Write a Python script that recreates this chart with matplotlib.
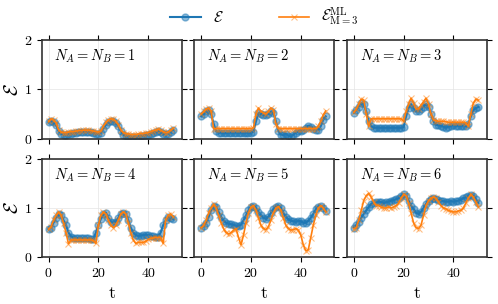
import numpy as np
import matplotlib
matplotlib.use("Agg")
from matplotlib import pyplot as plt

plt.rcParams['font.family'] = 'serif'
plt.rcParams['font.serif'] = ['cmr10', 'DejaVu Serif']
plt.rcParams['mathtext.fontset'] = 'cm'
plt.rcParams['axes.formatter.use_mathtext'] = True

# time steps
t = np.arange(51)

# exact value E, one list per N_A = N_B
e_exact = {
    1: [0.33, 0.35, 0.33, 0.28, 0.15, 0.10, 0.08, 0.08, 0.09, 0.10, 0.11, 0.12, 0.13, 0.13, 0.14, 0.14, 0.14,
        0.13, 0.12, 0.10, 0.10, 0.12, 0.20, 0.28, 0.33, 0.35, 0.35, 0.32, 0.25, 0.15, 0.08, 0.05, 0.04, 0.03,
        0.03, 0.03, 0.04, 0.05, 0.06, 0.07, 0.08, 0.10, 0.12, 0.13, 0.15, 0.13, 0.10, 0.09, 0.10, 0.14, 0.18],
    2: [0.45, 0.50, 0.55, 0.58, 0.50, 0.30, 0.15, 0.12, 0.12, 0.11, 0.11, 0.12, 0.12, 0.12, 0.12, 0.12, 0.12,
        0.12, 0.12, 0.12, 0.12, 0.14, 0.35, 0.52, 0.50, 0.48, 0.47, 0.50, 0.55, 0.52, 0.35, 0.15, 0.08, 0.07,
        0.10, 0.06, 0.04, 0.08, 0.12, 0.15, 0.16, 0.18, 0.22, 0.26, 0.24, 0.20, 0.18, 0.18, 0.25, 0.38, 0.45],
    3: [0.52, 0.58, 0.65, 0.72, 0.70, 0.55, 0.35, 0.25, 0.22, 0.22, 0.22, 0.22, 0.22, 0.22, 0.22, 0.22, 0.22,
        0.22, 0.22, 0.22, 0.23, 0.45, 0.62, 0.70, 0.62, 0.55, 0.55, 0.60, 0.65, 0.70, 0.65, 0.50, 0.35, 0.28,
        0.27, 0.26, 0.24, 0.22, 0.24, 0.26, 0.27, 0.26, 0.26, 0.26, 0.26, 0.25, 0.30, 0.45, 0.58, 0.62, 0.64],
    4: [0.57, 0.60, 0.70, 0.80, 0.88, 0.85, 0.75, 0.65, 0.50, 0.42, 0.40, 0.39, 0.39, 0.38, 0.38, 0.38, 0.38,
        0.37, 0.37, 0.50, 0.65, 0.78, 0.88, 0.90, 0.80, 0.72, 0.70, 0.72, 0.80, 0.88, 0.90, 0.88, 0.75, 0.60,
        0.50, 0.45, 0.43, 0.44, 0.45, 0.46, 0.45, 0.44, 0.43, 0.42, 0.42, 0.50, 0.65, 0.75, 0.82, 0.80, 0.77],
    5: [0.60, 0.63, 0.70, 0.82, 0.95, 1.05, 1.02, 0.92, 0.82, 0.74, 0.70, 0.68, 0.67, 0.66, 0.64, 0.63, 0.66,
        0.75, 0.85, 0.95, 1.03, 1.05, 1.00, 0.92, 0.85, 0.80, 0.78, 0.82, 0.90, 0.98, 1.03, 1.05, 1.00, 0.90,
        0.82, 0.77, 0.74, 0.73, 0.72, 0.74, 0.73, 0.70, 0.70, 0.74, 0.80, 0.88, 0.97, 1.03, 1.05, 1.00, 0.93],
    6: [0.60, 0.65, 0.72, 0.80, 0.88, 0.95, 1.02, 1.08, 1.10, 1.12, 1.13, 1.12, 1.10, 1.12, 1.13, 1.15, 1.16,
        1.18, 1.20, 1.25, 1.28, 1.25, 1.15, 1.05, 0.98, 0.90, 0.88, 0.92, 1.00, 1.08, 1.15, 1.18, 1.20, 1.18,
        1.16, 1.15, 1.14, 1.13, 1.13, 1.14, 1.13, 1.14, 1.15, 1.17, 1.20, 1.22, 1.25, 1.27, 1.25, 1.18, 1.10],
}

# ML estimate with M = 3
e_ml = {
    1: [0.35, 0.40, 0.38, 0.32, 0.18, 0.13, 0.12, 0.12, 0.13, 0.14, 0.14, 0.15, 0.16, 0.16, 0.17, 0.17, 0.17,
        0.16, 0.15, 0.14, 0.13, 0.15, 0.25, 0.33, 0.38, 0.40, 0.39, 0.35, 0.28, 0.18, 0.12, 0.10, 0.09, 0.08,
        0.08, 0.08, 0.09, 0.10, 0.10, 0.11, 0.12, 0.14, 0.16, 0.17, 0.19, 0.17, 0.14, 0.12, 0.13, 0.17, 0.21],
    2: [0.50, 0.55, 0.60, 0.62, 0.55, 0.20, 0.20, 0.20, 0.20, 0.20, 0.20, 0.20, 0.20, 0.20, 0.20, 0.20, 0.20,
        0.20, 0.20, 0.20, 0.20, 0.22, 0.50, 0.62, 0.55, 0.52, 0.50, 0.55, 0.62, 0.58, 0.30, 0.20, 0.20, 0.20,
        0.20, 0.20, 0.20, 0.20, 0.20, 0.20, 0.20, 0.20, 0.20, 0.20, 0.20, 0.20, 0.20, 0.25, 0.35, 0.48, 0.56],
    3: [0.53, 0.60, 0.70, 0.80, 0.78, 0.50, 0.25, 0.40, 0.40, 0.40, 0.40, 0.40, 0.40, 0.40, 0.40, 0.40, 0.40,
        0.40, 0.40, 0.40, 0.35, 0.55, 0.70, 0.82, 0.72, 0.60, 0.60, 0.68, 0.75, 0.82, 0.70, 0.50, 0.38, 0.36,
        0.35, 0.35, 0.35, 0.34, 0.33, 0.33, 0.33, 0.33, 0.33, 0.33, 0.33, 0.32, 0.25, 0.50, 0.72, 0.80, 0.78],
    4: [0.57, 0.62, 0.75, 0.85, 0.92, 0.85, 0.70, 0.50, 0.27, 0.35, 0.35, 0.35, 0.35, 0.35, 0.35, 0.35, 0.35,
        0.35, 0.34, 0.28, 0.65, 0.85, 0.92, 0.88, 0.75, 0.65, 0.60, 0.65, 0.75, 0.88, 0.92, 0.88, 0.70, 0.50,
        0.35, 0.28, 0.30, 0.30, 0.30, 0.32, 0.36, 0.38, 0.39, 0.40, 0.40, 0.40, 0.28, 0.75, 0.85, 0.88, 0.82],
    5: [0.60, 0.65, 0.75, 0.90, 1.00, 1.08, 1.00, 0.85, 0.70, 0.58, 0.50, 0.47, 0.50, 0.55, 0.58, 0.40, 0.25,
        0.45, 0.70, 0.90, 1.02, 1.05, 0.95, 0.80, 0.65, 0.58, 0.56, 0.62, 0.75, 0.90, 1.00, 1.03, 0.95, 0.80,
        0.65, 0.58, 0.55, 0.56, 0.58, 0.55, 0.45, 0.25, 0.13, 0.15, 0.40, 0.65, 0.85, 1.00, 1.05, 1.00, 0.92],
    6: [0.58, 0.60, 0.75, 0.95, 1.15, 1.25, 1.30, 1.22, 1.12, 1.05, 1.05, 1.02, 1.00, 1.00, 1.02, 1.00, 1.02,
        1.05, 1.10, 1.20, 1.28, 1.25, 1.10, 0.90, 0.70, 0.60, 0.58, 0.65, 0.85, 1.05, 1.15, 1.20, 1.22, 1.20,
        1.12, 1.05, 1.00, 0.98, 0.95, 0.93, 0.92, 0.92, 0.94, 0.95, 1.00, 1.10, 1.20, 1.28, 1.22, 1.12, 1.02],
}

blue = '#1f77b4'
orange = '#ff7f0e'

fig, axes = plt.subplots(2, 3, figsize=(4.98, 3.04), dpi=100, sharex=True, sharey=True)
fig.subplots_adjust(left=0.084, right=0.978, bottom=0.154, top=0.868, wspace=0.09, hspace=0.206)

for i, ax in enumerate(axes.flat):
    n = i + 1
    l1, = ax.plot(t, e_exact[n], color=blue, lw=1.5, marker='o', ms=5,
                  mfc=(0.12, 0.47, 0.71, 0.5), mec=(0.12, 0.47, 0.71, 0.5))
    l2, = ax.plot(t, e_ml[n], color=orange, lw=1.2, marker='x', ms=4, mew=0.8,
                  mec=(1.0, 0.5, 0.05, 0.5))
    ax.text(0.09, 0.92, r'$N_A = N_B = %d$' % n, transform=ax.transAxes,
            ha='left', va='top', fontsize=10.5)
    ax.set_ylim(0, 2)
    ax.set_xlim(-2.7, 53.5)
    ax.set_xticks([0, 20, 40])
    ax.set_yticks([0, 1, 2])
    ax.grid(True, color='#e4e4e4', lw=0.5)
    ax.tick_params(direction='out', top=True, right=True, labelsize=10, length=3.5, width=0.8)
    for s in ax.spines.values():
        s.set_linewidth(1.2)
        s.set_color('#333333')

for ax in axes[:, 0]:
    ax.set_ylabel(r'$\mathcal{E}$', fontsize=14, labelpad=1)
for ax in axes[1, :]:
    ax.set_xlabel('t', fontsize=13)

fig.legend([l1, l2], [r'$\mathcal{E}$', r'$\mathcal{E}^{\rm ML}_{\rm M=3}$'],
           loc='upper center', bbox_to_anchor=(0.531, 1.025), ncol=2, frameon=False,
           fontsize=11, columnspacing=3.6, handlelength=2.0)

plt.savefig('out.png', dpi=100)
